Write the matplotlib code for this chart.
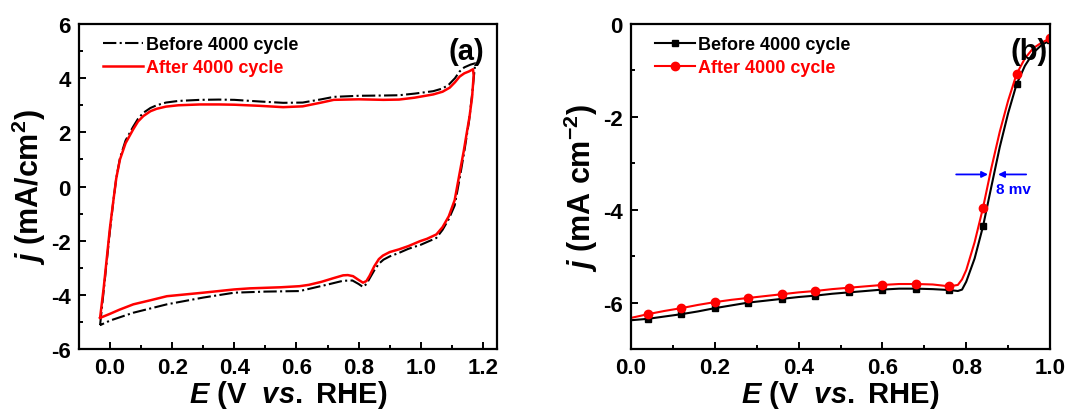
import matplotlib
matplotlib.use('Agg')
import matplotlib.pyplot as plt
import numpy as np

plt.rcParams['font.family'] = ['Liberation Sans', 'DejaVu Sans']
plt.rcParams['font.weight'] = 'bold'
plt.rcParams['axes.unicode_minus'] = False
plt.rcParams['mathtext.fontset'] = 'custom'
plt.rcParams['mathtext.it'] = 'Liberation Sans:italic:bold'
plt.rcParams['mathtext.rm'] = 'Liberation Sans:bold'
plt.rcParams['mathtext.bf'] = 'Liberation Sans:bold'

# (a) CV loops: anodic branch up to the vertex, then cathodic branch back
E_cv_before = [-0.032, -0.02, -0.01, 0.0, 0.011, 0.02, 0.032, 0.05, 0.074, 0.09, 0.107, 0.13,
               0.15, 0.18, 0.22, 0.29, 0.35, 0.40, 0.48, 0.557, 0.62, 0.68, 0.72, 0.80, 0.88,
               0.93, 0.98, 1.04, 1.07, 1.09, 1.11, 1.125, 1.14, 1.16, 1.175,
               1.172, 1.165, 1.155, 1.14, 1.125, 1.109, 1.09, 1.07, 1.05, 1.0, 0.96, 0.93, 0.90,
               0.88, 0.865, 0.85, 0.835, 0.825, 0.814, 0.80, 0.78, 0.75, 0.70, 0.61, 0.50, 0.40,
               0.30, 0.183, 0.075, 0.0, -0.032]
j_cv_before = [-5.12, -3.8, -2.7, -1.6, -0.5, 0.3, 1.05, 1.7, 2.2, 2.5, 2.72, 2.9,
               3.0, 3.1, 3.16, 3.2, 3.21, 3.2, 3.14, 3.09, 3.1, 3.22, 3.31, 3.35, 3.36,
               3.37, 3.43, 3.52, 3.62, 3.76, 4.0, 4.25, 4.4, 4.5, 4.55,
               4.2, 3.4, 2.4, 1.3, 0.3, -0.7, -1.2, -1.6, -1.9, -2.15, -2.3, -2.45, -2.58,
               -2.7, -2.85, -3.1, -3.4, -3.6, -3.71, -3.6, -3.47, -3.48, -3.62, -3.86, -3.88, -3.92,
               -4.1, -4.35, -4.66, -4.95, -5.12]
E_cv_after = [-0.032, -0.02, -0.01, 0.0, 0.011, 0.02, 0.032, 0.05, 0.074, 0.09, 0.107, 0.13,
              0.15, 0.18, 0.22, 0.29, 0.35, 0.40, 0.48, 0.557, 0.62, 0.68, 0.72, 0.80, 0.88,
              0.93, 0.98, 1.04, 1.07, 1.093, 1.11, 1.125, 1.14, 1.155, 1.168,
              1.17, 1.165, 1.157, 1.148, 1.138, 1.125, 1.109, 1.09, 1.07, 1.05, 1.02, 0.997, 0.96,
              0.93, 0.90, 0.878, 0.865, 0.85, 0.835, 0.825, 0.814, 0.80, 0.782, 0.765, 0.75, 0.72,
              0.68, 0.64, 0.61, 0.55, 0.50, 0.45, 0.40, 0.30, 0.183, 0.13, 0.075, 0.03, 0.0, -0.032]
j_cv_after = [-4.85, -3.7, -2.6, -1.5, -0.5, 0.3, 1.0, 1.6, 2.1, 2.4, 2.6, 2.78,
              2.87, 2.95, 3.0, 3.03, 3.03, 3.02, 2.98, 2.93, 2.96, 3.1, 3.2, 3.22, 3.2,
              3.21, 3.28, 3.4, 3.5, 3.65, 3.85, 4.06, 4.18, 4.25, 4.33,
              4.1, 3.3, 2.6, 1.99, 1.3, 0.5, -0.5, -1.1, -1.5, -1.77, -1.93, -2.02, -2.2,
              -2.32, -2.42, -2.55, -2.68, -2.95, -3.3, -3.49, -3.55, -3.45, -3.31, -3.27, -3.28, -3.38,
              -3.52, -3.63, -3.68, -3.72, -3.74, -3.76, -3.80, -3.92, -4.05, -4.2, -4.35, -4.55, -4.7, -4.85]

# (b) LSV curves
E_lsv = [0.0, 0.04, 0.08, 0.12, 0.16, 0.2, 0.24, 0.28, 0.32, 0.36, 0.40, 0.44, 0.48, 0.52,
         0.56, 0.6, 0.64, 0.68, 0.72, 0.76, 0.78, 0.79, 0.80, 0.82, 0.84, 0.86, 0.88, 0.90,
         0.92, 0.94, 0.96, 0.98, 1.0]
j_before = [-6.38, -6.35, -6.30, -6.25, -6.19, -6.12, -6.06, -6.00, -5.96, -5.92, -5.88, -5.85,
            -5.81, -5.78, -5.75, -5.72, -5.70, -5.70, -5.71, -5.73, -5.75, -5.72, -5.55, -5.05,
            -4.36, -3.50, -2.65, -1.92, -1.30, -0.90, -0.62, -0.45, -0.35]
j_after = [-6.33, -6.25, -6.18, -6.12, -6.05, -5.99, -5.94, -5.90, -5.86, -5.82, -5.78, -5.75,
           -5.71, -5.68, -5.65, -5.62, -5.60, -5.60, -5.61, -5.65, -5.62, -5.50, -5.30, -4.70,
           -3.96, -3.10, -2.32, -1.65, -1.08, -0.74, -0.52, -0.40, -0.31]
E_markers = [0.04, 0.12, 0.2, 0.28, 0.36, 0.44, 0.52, 0.6, 0.68, 0.76, 0.84, 0.92, 1.0]
mark_idx = [E_lsv.index(e) for e in E_markers]

labels = ['Before 4000 cycle', 'After 4000 cycle']

fig = plt.figure(figsize=(10.86, 4.10), dpi=100)
ax1 = fig.add_axes([0.0727, 0.1463, 0.3849, 0.7927])
ax2 = fig.add_axes([0.581, 0.1463, 0.3859, 0.7927])

ax1.plot(E_cv_before, j_cv_before, color='black', linestyle='-.', linewidth=1.5, label=labels[0])
ax1.plot(E_cv_after, j_cv_after, color='red', linestyle='-', linewidth=1.8, label=labels[1])
ax1.set_xlim(-0.1, 1.245)
ax1.set_ylim(-6, 6)
ax1.set_xticks(np.arange(0, 1.21, 0.2))
ax1.set_xticks(np.arange(-0.1, 1.21, 0.1), minor=True)
ax1.set_yticks(np.arange(-6, 6.1, 2))
ax1.set_yticks(np.arange(-5, 6, 2), minor=True)
ax1.set_xlabel(r'$\it{E}$ (V  $\it{vs.}$ RHE)', fontsize=21, fontweight='bold', labelpad=0)
ax1.set_ylabel(r'$\it{j}$ (mA/cm$^2$)', fontsize=22, fontweight='bold', labelpad=2)
ax1.text(0.97, 0.96, '(a)', transform=ax1.transAxes, ha='right', va='top', fontsize=21, fontweight='bold')

ax2.plot(E_lsv, j_before, color='black', linewidth=1.5, marker='s', markersize=5,
         markevery=mark_idx, label=labels[0])
ax2.plot(E_lsv, j_after, color='red', linewidth=1.5, marker='o', markersize=6,
         markevery=mark_idx, label=labels[1])
ax2.set_xlim(0, 1.0)
ax2.set_ylim(-7, 0)
ax2.set_xticks(np.arange(0, 1.01, 0.2))
ax2.set_xticks(np.arange(0, 1.01, 0.1), minor=True)
ax2.set_yticks(np.arange(-6, 0.1, 2))
ax2.set_yticks(np.arange(-7, 0, 2), minor=True)
ax2.set_xlabel(r'$\it{E}$ (V  $\it{vs.}$ RHE)', fontsize=21, fontweight='bold', labelpad=0)
ax2.set_ylabel(r'$\it{j}$ (mA cm$^{-2}$)', fontsize=22, fontweight='bold', labelpad=2)
ax2.text(0.995, 0.96, '(b)', transform=ax2.transAxes, ha='right', va='top', fontsize=21, fontweight='bold')

# 8 mV shift arrows
ax2.annotate('', xy=(0.852, -3.24), xytext=(0.776, -3.24),
             arrowprops=dict(arrowstyle='-|>', color='blue', lw=1.3, mutation_scale=9,
                             shrinkA=0, shrinkB=0))
ax2.annotate('', xy=(0.876, -3.24), xytext=(0.943, -3.24),
             arrowprops=dict(arrowstyle='-|>', color='blue', lw=1.3, mutation_scale=9,
                             shrinkA=0, shrinkB=0))
ax2.text(0.872, -3.56, '8 mv', color='blue', fontsize=11, fontweight='bold', ha='left', va='center')

for ax in (ax1, ax2):
    for s in ax.spines.values():
        s.set_linewidth(1.6)
    ax.tick_params(which='both', direction='in', top=False, right=False, width=1.4)
    ax.tick_params(which='major', length=5, labelsize=16, pad=6)
    ax.tick_params(which='minor', length=3)
    for t in ax.get_xticklabels() + ax.get_yticklabels():
        t.set_fontweight('bold')
    leg = ax.legend(loc='upper left', bbox_to_anchor=(0.04, 0.985), frameon=False, fontsize=13,
                    handlelength=2.2, handletextpad=0.2, labelspacing=0.35, borderaxespad=0.0)
    for txt, line in zip(leg.get_texts(), leg.get_lines()):
        txt.set_color(line.get_color())
        txt.set_fontweight('bold')

fig.savefig('out.png', dpi=100)
